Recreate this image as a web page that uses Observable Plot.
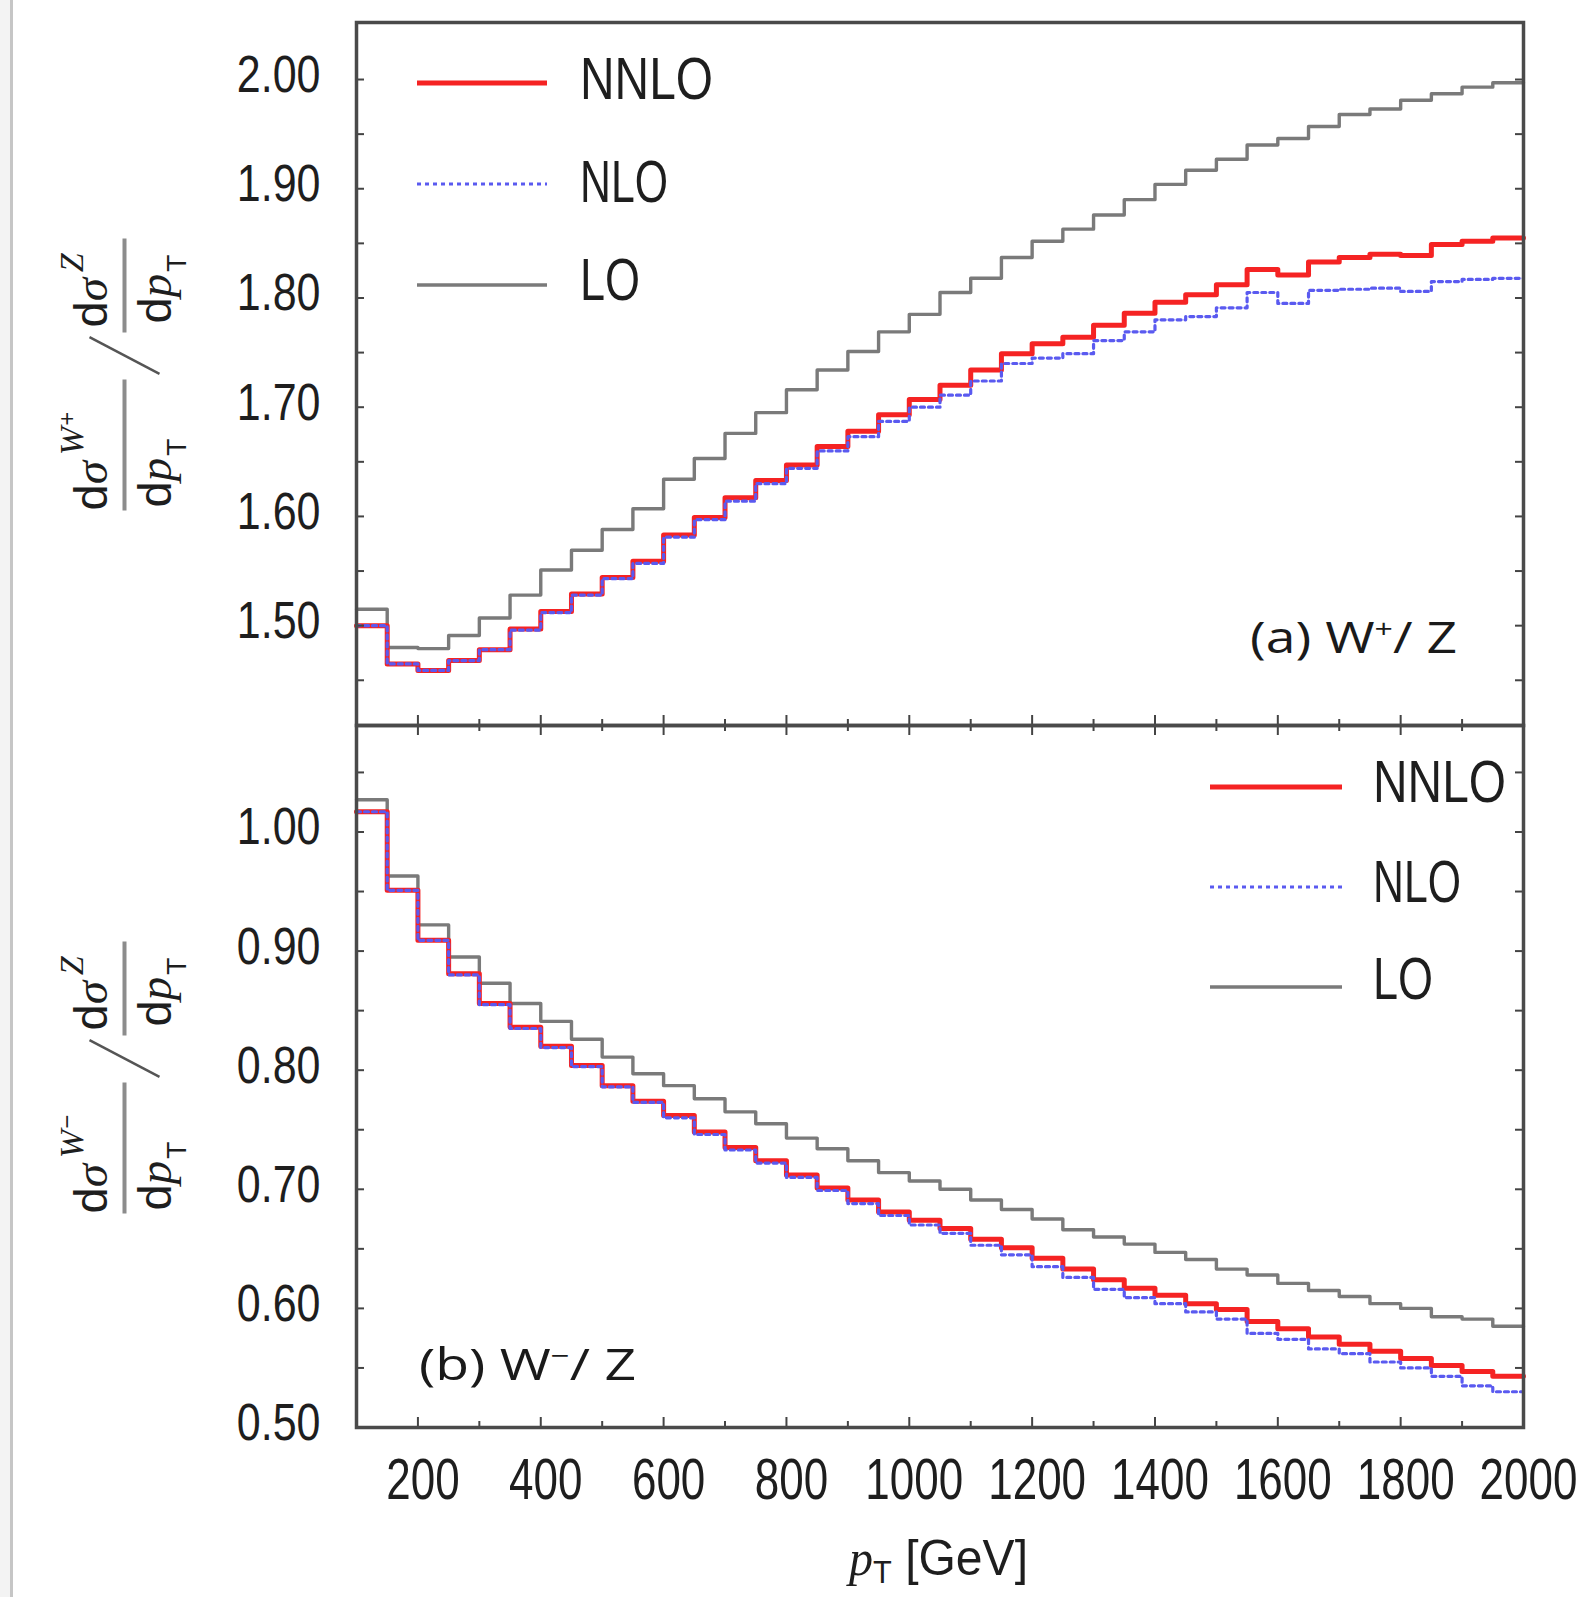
<!DOCTYPE html>
<html>
<head>
<meta charset="utf-8">
<script src="https://cdn.jsdelivr.net/npm/d3@7"></script>
<script src="https://cdn.jsdelivr.net/npm/@observablehq/plot@0.6"></script>
<style>
html, body { margin: 0; padding: 0; background: #fff; }
#page { position: relative; width: 1586px; height: 1597px; overflow: hidden; background: #fff;
  font-family: "Liberation Sans", Arial, sans-serif; color: #1e1e1e; }
#page svg { position: absolute; left: 0; top: 0; }
.t { position: absolute; white-space: nowrap; line-height: 1; transform-origin: left top; }
.t sup { font-size: 0.6em; line-height: 0; vertical-align: 0.6em; }
.t sub { font-size: 0.64em; line-height: 0; vertical-align: -0.25em; }
.serif { font-family: "Liberation Serif", "DejaVu Serif", serif; font-style: italic; }
.ytitle { position: absolute; width: 272px; height: 127px; transform: rotate(-90deg); transform-origin: 50% 50%; }
.ytitle .ln { position: absolute; white-space: nowrap; line-height: 1; font-size: 47px; color: #1e1e1e; }
.ytitle .up { font-size: 34px; line-height: 0; vertical-align: 24px; margin-left: 6px; }
.ytitle .sg { font-family: "Liberation Sans", Arial, sans-serif; font-style: normal; font-size: 24px; vertical-align: 8px; margin-left: 1px; }
.ytitle .dn { font-size: 28px; line-height: 0; vertical-align: -15px; margin-left: 2px; }
.ytitle .bar { position: absolute; height: 4px; background: #8c8c8c; }
.border { position: absolute; left: 10px; top: 0; width: 3px; height: 1597px; background: #c6c6c6; }
.border2 { position: absolute; left: 0; top: 0; width: 10px; height: 1597px; background: #f3f3f3; }
</style>
</head>
<body>
<div id="page"><div class="border2"></div><div class="border"></div></div>
<script>
// ---- data ----
const binEdges = [100,150,200,250,300,350,400,450,500,550,600,650,700,750,800,850,900,950,1000,1050,
  1100,1150,1200,1250,1300,1350,1400,1450,1500,1550,1600,1650,1700,1750,1800,1850,1900,1950,2000];

const seriesNames = ["NNLO", "NLO", "LO"];

// (a) W+/Z
const wPlusNNLO = [1.500,1.465,1.459,1.468,1.478,1.497,1.513,1.529,1.544,1.559,
  1.583,1.599,1.617,1.633,1.647,1.664,1.678,1.693,1.707,1.720,
  1.734,1.749,1.758,1.764,1.775,1.786,1.796,1.803,1.812,1.826,
  1.821,1.833,1.837,1.840,1.839,1.849,1.852,1.855];
const wPlusNLO = [1.500,1.465,1.459,1.468,1.478,1.496,1.512,1.528,1.543,1.557,
  1.581,1.597,1.614,1.630,1.644,1.660,1.673,1.687,1.700,1.711,
  1.724,1.740,1.745,1.749,1.761,1.769,1.780,1.783,1.791,1.805,
  1.795,1.807,1.808,1.809,1.806,1.815,1.817,1.818];
const wPlusLO = [1.515,1.480,1.479,1.491,1.507,1.528,1.551,1.569,1.588,1.607,
  1.634,1.653,1.676,1.695,1.716,1.734,1.751,1.769,1.785,1.805,
  1.818,1.837,1.852,1.863,1.876,1.890,1.904,1.917,1.927,1.940,
  1.946,1.957,1.968,1.973,1.981,1.987,1.993,1.997];

// (b) W-/Z
const wMinusNNLO = [1.017,0.951,0.909,0.881,0.856,0.836,0.820,0.804,0.787,0.774,
  0.762,0.748,0.735,0.724,0.712,0.701,0.691,0.681,0.674,0.667,
  0.658,0.651,0.642,0.633,0.624,0.617,0.611,0.604,0.599,0.589,
  0.583,0.576,0.570,0.564,0.558,0.552,0.547,0.543];
const wMinusNLO = [1.017,0.951,0.909,0.880,0.855,0.835,0.819,0.803,0.786,0.773,
  0.760,0.746,0.733,0.722,0.710,0.699,0.688,0.678,0.670,0.663,
  0.653,0.645,0.635,0.626,0.616,0.609,0.604,0.597,0.591,0.579,
  0.574,0.566,0.562,0.555,0.550,0.543,0.535,0.530];
const wMinusLO = [1.027,0.963,0.922,0.895,0.873,0.856,0.841,0.826,0.811,0.797,
  0.787,0.776,0.765,0.755,0.743,0.734,0.724,0.714,0.707,0.700,
  0.691,0.683,0.675,0.666,0.660,0.654,0.647,0.641,0.633,0.628,
  0.621,0.615,0.610,0.604,0.600,0.593,0.591,0.585];

// ticks
const yTicksTop = [1.45,1.50,1.55,1.60,1.65,1.70,1.75,1.80,1.85,1.90,1.95,2.00];
const yLabelsTop = [1.50,1.60,1.70,1.80,1.90,2.00];
const yTicksBottom = [0.55,0.60,0.65,0.70,0.75,0.80,0.85,0.90,0.95,1.00,1.05];
const yLabelsBottom = [0.50,0.60,0.70,0.80,0.90,1.00];
const xMajor = [200,400,600,800,1000,1200,1400,1600,1800];
const xMinor = [300,500,700,900,1100,1300,1500,1700,1900];
const xLabels = [200,400,600,800,1000,1200,1400,1600,1800,2000];

// ---- styles ----
const style = {
  NNLO: {stroke: "#f52323", strokeWidth: 5},
  NLO: {stroke: "#5a5af0", strokeWidth: 3.2, strokeDasharray: "4,4"},
  LO: {stroke: "#7a7a7a", strokeWidth: 3.4}
};

const W = 1586, H = 1597, ML = 356, MR = 63;
const page = document.getElementById("page");

function steps(vals) {
  return binEdges.map((e, i) => ({x: e, y: vals[Math.min(i, vals.length - 1)]}));
}

function panel({top, bottom, yDomain, data, yTicks, yLabels, showX, topTicks}) {
  const ph = bottom - top, pw = W - ML - MR;
  const marks = [];
  for (const name of ["LO", "NNLO", "NLO"]) {
    marks.push(Plot.line(steps(data[name]), {x: "x", y: "y", curve: "step-after", ...style[name]}));
  }
  const tk = {stroke: "#444", strokeWidth: 2};
  marks.push(Plot.tickY(yTicks, {y: d => d, insetRight: pw - 8, ...tk}));
  marks.push(Plot.tickY(yTicks, {y: d => d, insetLeft: pw - 8, ...tk}));
  marks.push(Plot.tickX(xMajor, {x: d => d, insetTop: ph - 10, ...tk}));
  marks.push(Plot.tickX(xMinor, {x: d => d, insetTop: ph - 6, ...tk}));
  if (topTicks) {
    marks.push(Plot.tickX(xMajor, {x: d => d, insetBottom: ph - 10, ...tk}));
    marks.push(Plot.tickX(xMinor, {x: d => d, insetBottom: ph - 6, ...tk}));
  }
  marks.push(Plot.axisY(yLabels, {tickSize: 0, tickPadding: 36, tickFormat: d3.format(".2f"),
    fontSize: 43, label: null, dy: -4, fill: "#1e1e1e"}));
  if (showX) marks.push(Plot.axisX(xLabels, {tickSize: 0, tickPadding: 30, tickFormat: d3.format("d"),
    fontSize: 44, label: null, dx: 5, fill: "#1e1e1e"}));
  marks.push(Plot.frame({stroke: "#4a4a4a", strokeWidth: 3.5}));
  return Plot.plot({
    width: W, height: H,
    marginLeft: ML, marginRight: MR, marginTop: top, marginBottom: H - bottom,
    x: {domain: [100, 2000], axis: showX ? undefined : null},
    y: {domain: yDomain},
    style: {background: "transparent", overflow: "visible", fontFamily: "Liberation Sans, Arial, sans-serif", color: "#1e1e1e"},
    marks
  });
}

const topSvg = panel({top: 22, bottom: 725, yDomain: [1.4086, 2.0522],
  data: {NNLO: wPlusNNLO, NLO: wPlusNLO, LO: wPlusLO}, yTicks: yTicksTop, yLabels: yLabelsTop,
  showX: false, topTicks: false});
const botSvg = panel({top: 725, bottom: 1427, yDomain: [0.5, 1.0894],
  data: {NNLO: wMinusNNLO, NLO: wMinusNLO, LO: wMinusLO}, yTicks: yTicksBottom, yLabels: yLabelsBottom,
  showX: true, topTicks: true});
page.appendChild(topSvg);
page.appendChild(botSvg);

// tall, narrow tick labels: stretch the glyphs vertically about their anchor
function stretch(svg, axis, k) {
  svg.querySelectorAll(`g[aria-label="${axis}-axis tick label"] text`).forEach(t => {
    const tr = t.getAttribute("transform");
    if (tr && tr.includes("translate")) {
      t.setAttribute("transform", `${tr} scale(1,${k})`);
    }
  });
}
stretch(topSvg, "y", 1.2);
stretch(botSvg, "y", 1.2);
stretch(botSvg, "x", 1.32);

// ---- html text helpers ----
function txt(html, {x, y, size, family, width, anchor = "start", color}) {
  const el = document.createElement("div");
  el.className = "t";
  el.innerHTML = html;
  el.style.fontSize = size + "px";
  if (family) el.style.fontFamily = family;
  if (color) el.style.color = color;
  page.appendChild(el);
  const w = el.getBoundingClientRect().width;
  const k = width ? width / w : 1;
  el.style.left = (anchor === "middle" ? x - (w * k) / 2 : x) + "px";
  el.style.top = y + "px";
  el.style.transform = `scaleX(${k})`;
  return el;
}

function swatch(x1, x2, y, name) {
  const s = style[name];
  const svg = d3.create("svg").attr("width", x2 - x1).attr("height", 12)
    .style("left", x1 + "px").style("top", (y - 6) + "px");
  svg.append("line").attr("x1", 0).attr("x2", x2 - x1).attr("y1", 6).attr("y2", 6)
    .attr("stroke", s.stroke).attr("stroke-width", s.strokeWidth)
    .attr("stroke-dasharray", s.strokeDasharray || null);
  page.appendChild(svg.node());
}

// legends
const legTop = {lineX1: 417, lineX2: 547, textX: 580, rows: [83, 184, 285], caps: [49, 152, 250]};
const legBot = {lineX1: 1210, lineX2: 1342, textX: 1373, rows: [787, 887, 987], caps: [752, 852, 949]};
const legWidths = {NNLO: 133, NLO: 88, LO: 60};
for (const leg of [legTop, legBot]) {
  seriesNames.forEach((name, i) => {
    swatch(leg.lineX1, leg.lineX2, leg.rows[i], name);
    txt(name, {x: leg.textX, y: leg.caps[i], size: 60, width: legWidths[name]});
  });
}

// panel captions
txt("(a) W<sup>+</sup>/ Z", {x: 1250, y: 615, size: 43, family: "'Open Sans', sans-serif", width: 207, color: "#1a1a1a"});
txt("(b) W<sup>\u2212</sup>/ Z", {x: 419, y: 1342, size: 43, family: "'Open Sans', sans-serif", width: 217, color: "#1a1a1a"});

// x-axis title
txt('<span class="serif">p</span><sub>T</sub> [GeV]', {x: 938, y: 1533, size: 50, width: 179, anchor: "middle"});

// y-axis titles (fractions, rotated)
function yTitle(cx, cy, sign) {
  const box = document.createElement("div");
  box.className = "ytitle";
  box.style.left = (cx - 136) + "px";
  box.style.top = (cy - 63.5) + "px";
  box.innerHTML = `
    <span class="ln" style="left:0;top:7px">d<span class="serif">σ</span><span class="up"><span class="serif">W</span><span class="sg">${sign}</span></span></span>
    <div class="bar" style="left:0;top:63px;width:131px"></div>
    <span class="ln" style="left:3px;top:71px">d<span class="serif">p</span><span class="dn">T</span></span>
    <svg style="position:absolute;left:130px;top:25px" width="50" height="80">
      <line x1="6.7" y1="75" x2="43.3" y2="5" stroke="#555" stroke-width="2.5"/>
    </svg>
    <span class="ln" style="left:183px;top:7px">d<span class="serif">σ</span><span class="up"><span class="serif">Z</span></span></span>
    <div class="bar" style="left:178px;top:63px;width:94px"></div>
    <span class="ln" style="left:187px;top:71px">d<span class="serif">p</span><span class="dn">T</span></span>`;
  page.appendChild(box);
}
yTitle(123, 374, "+");
yTitle(123, 1077, "\u2212");
</script>
</body>
</html>
